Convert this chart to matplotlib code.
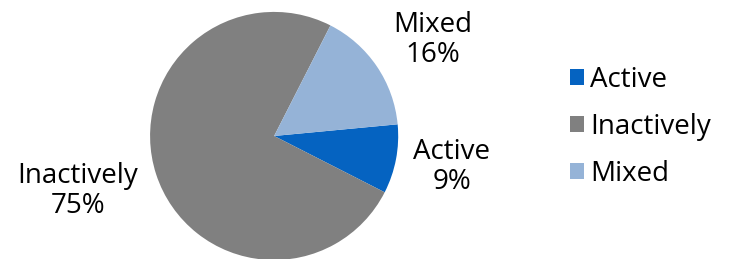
import matplotlib.pyplot as plt

plt.rcParams['font.family'] = ['Open Sans', 'DejaVu Sans']

labels = ['Active', 'Inactively', 'Mixed']
values = [9, 75, 16]
colors = ['#0563C1', '#808080', '#95B3D7']

# where the slice labels sit, in pie radius units
label_pos = [(1.43, -0.25), (-1.58, -0.44), (1.28, 0.77)]

fig = plt.figure(figsize=(7.32, 2.59), dpi=100)
ax = fig.add_axes([0.205, -0.004, 0.339, 0.958])

wedges, _ = ax.pie(values, colors=colors, startangle=5.4, counterclock=False,
                   wedgeprops=dict(linewidth=0))
ax.set_xlim(-1, 1)
ax.set_ylim(-1, 1)
ax.set_aspect('equal')

total = sum(values)
for lab, v, (x, y) in zip(labels, values, label_pos):
    ax.text(x, y, f"{lab}\n{round(100 * v / total)}%", ha='center', va='center',
            fontsize=20, linespacing=1.1, clip_on=False)

fig.legend(wedges, labels, loc='center left', bbox_to_anchor=(0.745, 0.51),
           frameon=False, fontsize=20, handlelength=0.5, handleheight=0.5,
           handletextpad=0.2, labelspacing=0.68)

fig.savefig('out.png', dpi=100)
